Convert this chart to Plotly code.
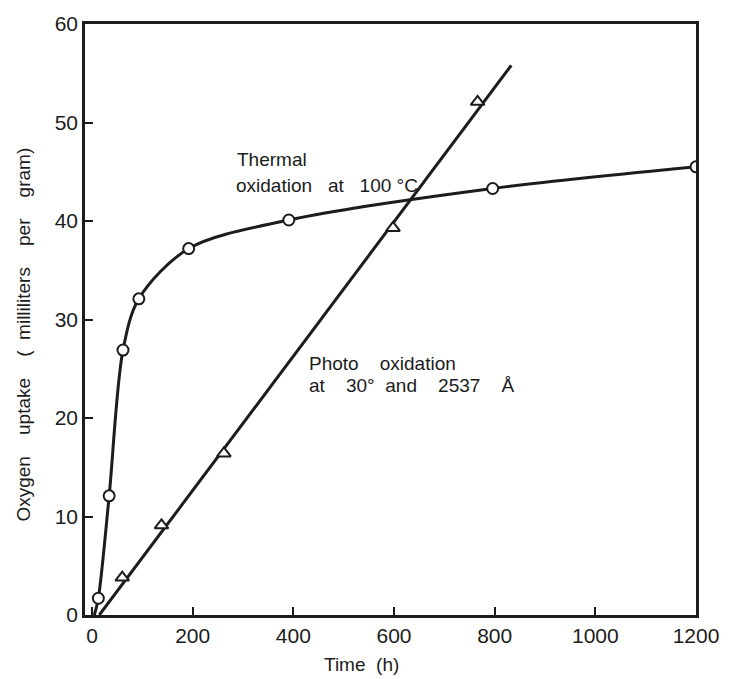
import plotly.graph_objects as go

# Thermal oxidation at 100 °C (open circles)
thermal_t = [12.5, 34, 61.5, 93, 192, 391, 796, 1200]
thermal_o2 = [1.7, 12.1, 26.9, 32.1, 37.2, 40.1, 43.3, 45.5]
# drawn curve: starts at the time axis, then passes through the points
thermal_curve_t = [4.6] + thermal_t
thermal_curve_o2 = [0.0] + thermal_o2

# Photo oxidation at 30° and 2537 Å (open triangles)
photo_t = [60, 138, 262, 598, 766]
photo_o2 = [3.8, 9.1, 16.4, 39.3, 52.1]
# straight fitted line (end points)
photo_line_t = [14.5, 833]
photo_line_o2 = [0.0, 55.8]

x_ticks = [0, 200, 400, 600, 800, 1000, 1200]
y_ticks = [0, 10, 20, 30, 40, 50, 60]

ink = "#1c1c1c"
font = "Liberation Sans"
nb = "\u00a0"

fig = go.Figure()
fig.add_trace(go.Scatter(x=thermal_curve_t, y=thermal_curve_o2, mode="lines",
                         line=dict(color=ink, width=3, shape="spline", smoothing=0.9),
                         hoverinfo="skip", showlegend=False))
fig.add_trace(go.Scatter(x=photo_line_t, y=photo_line_o2, mode="lines",
                         line=dict(color=ink, width=3),
                         hoverinfo="skip", showlegend=False))
fig.add_trace(go.Scatter(x=thermal_t, y=thermal_o2, mode="markers",
                         marker=dict(symbol="circle", size=11, color="white",
                                     line=dict(color=ink, width=2)),
                         name="Thermal oxidation at 100 °C", showlegend=False))
fig.add_trace(go.Scatter(x=photo_t, y=photo_o2, mode="markers",
                         marker=dict(symbol="triangle-up", size=12, color="white",
                                     line=dict(color=ink, width=2)),
                         name="Photo oxidation at 30° and 2537 Å", showlegend=False))

ann_font = dict(family=font, size=19, color=ink)
fig.add_annotation(x=284, y=46.2, text="Thermal", showarrow=False,
                   xanchor="left", yanchor="middle", font=ann_font)
fig.add_annotation(x=282, y=43.6, text=f"oxidation{nb*3}at{nb*3}100{nb}°C", showarrow=False,
                   xanchor="left", yanchor="middle", font=ann_font)
fig.add_annotation(x=428, y=25.5, text=f"Photo{nb*4}oxidation", showarrow=False,
                   xanchor="left", yanchor="middle", font=ann_font)
fig.add_annotation(x=428, y=23.3, text=f"at{nb*4}30°{nb*2}and{nb*4}2537{nb*4}Å", showarrow=False,
                   xanchor="left", yanchor="middle", font=ann_font)

# axis titles
fig.add_annotation(xref="paper", yref="paper", x=0.4526, y=-0.084,
                   text=f"Time{nb*2}(h)", showarrow=False, xanchor="center", yanchor="middle",
                   font=dict(family=font, size=19, color=ink))
fig.add_annotation(xref="paper", yref="paper", x=-0.101, y=0.475,
                   text=f"Oxygen{nb*4}uptake{nb*4}({nb*2}milliliters{nb*4}per{nb*4}gram)",
                   textangle=-90, showarrow=False, xanchor="center", yanchor="middle",
                   font=dict(family=font, size=19, color=ink))

axis_common = dict(showgrid=False, zeroline=False, showline=True, linecolor=ink, linewidth=2.6,
                   mirror=True, ticks="inside", ticklen=8, tickwidth=2, tickcolor=ink,
                   tickfont=dict(family=font, size=21, color=ink))
fig.update_xaxes(range=[-14, 1200], tickvals=x_ticks, **axis_common)
fig.update_yaxes(range=[0, 60], tickvals=y_ticks, **axis_common)

fig.update_layout(width=731, height=679, margin=dict(l=85, r=34, t=22, b=64),
                  paper_bgcolor="white", plot_bgcolor="white", showlegend=False)

fig.write_html("out.html")
